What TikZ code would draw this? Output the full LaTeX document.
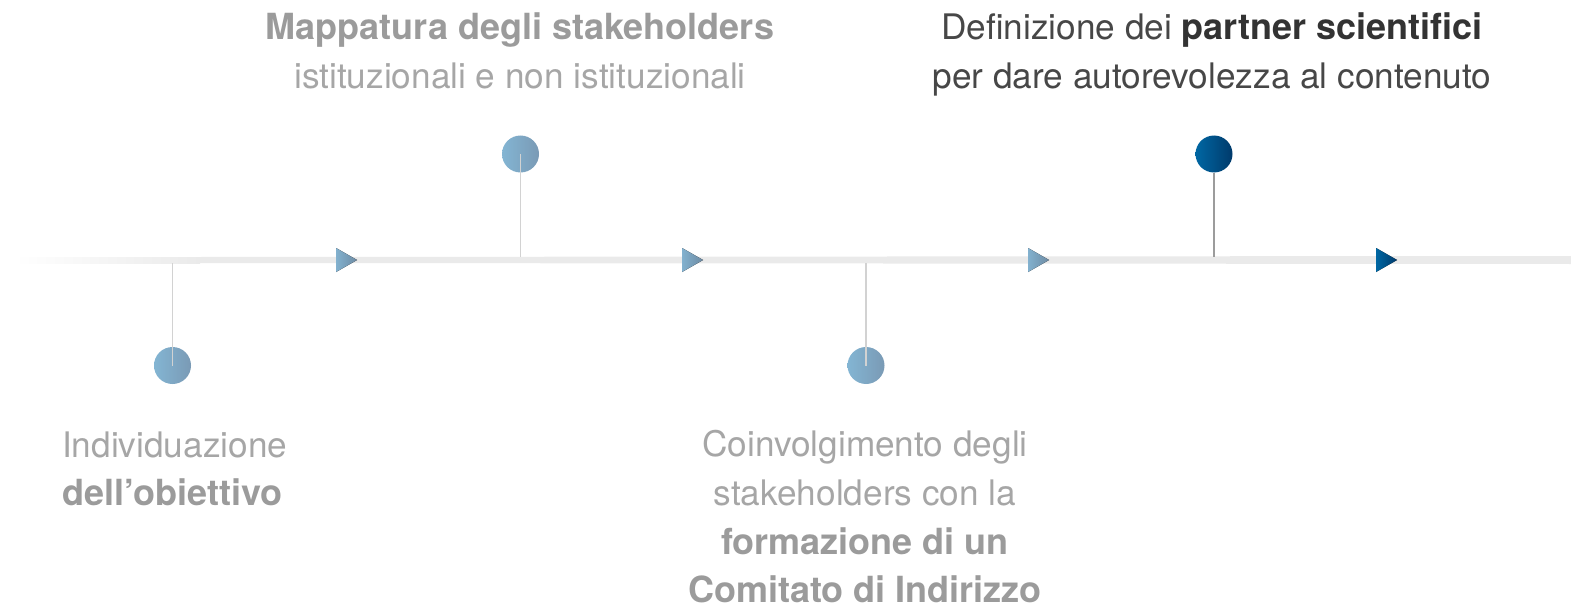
\documentclass[tikz,border=0pt]{standalone}
\usepackage{fontspec}
\setmainfont{TeX Gyre Heros}
\definecolor{txtlight}{HTML}{A6A6A6}
\definecolor{txtbold}{HTML}{9B9B9B}
\definecolor{txtdark}{HTML}{474747}
\definecolor{txtdarkb}{HTML}{333333}
\definecolor{bluelA}{HTML}{83B5D3}
\definecolor{bluelB}{HTML}{7A9AB5}
\definecolor{bluedA}{HTML}{0067A3}
\definecolor{bluedB}{HTML}{003A6B}
\definecolor{linegray}{HTML}{EAEAEA}
\definecolor{stemlight}{HTML}{D2D2D2}
\definecolor{stemdark}{HTML}{9C9C9C}
\tikzset{
  lbl/.style={inner sep=0pt, anchor=base, font=\fontsize{35.2}{48}\selectfont},
  lblb/.style={inner sep=0pt, anchor=base, font=\fontsize{36}{48}\selectfont\bfseries},
  lightdot/.style={circle, minimum size=37pt, inner sep=0pt, left color=bluelA, right color=bluelB},
  darkdot/.style={circle, minimum size=37pt, inner sep=0pt, left color=bluedA, right color=bluedB},
  lighttri/.style={left color=bluelA!85!bluelB, right color=bluelB!90!black},
  darktri/.style={left color=bluedA, right color=bluedB},
  stemL/.style={draw=stemlight, line width=1.5pt},
  stemD/.style={draw=stemdark, line width=1.5pt},
}
\begin{document}
\begin{tikzpicture}[x=1pt,y=-1pt]
\useasboundingbox (0,0) rectangle (1571,607);
% timeline bar
\shade[left color=white, right color=linegray] (15,257) rectangle (200,263);
\fill[linegray] (199.5,257) -- (1571,256) -- (1571,264) -- (199.5,263) -- cycle;
% coordinates on the line
\coordinate (l1) at (172.5,263);
\coordinate (l2) at (520.5,257);
\coordinate (l3) at (866,263);
\coordinate (l4) at (1214,257);
% arrow heads
\foreach \xx in {336,682,1028}{
  \fill[lighttri] (\xx,248) -- (\xx+21,260) -- (\xx,272) -- cycle;
}
\fill[darktri] (1376,248) -- (1397,260) -- (1376,272) -- cycle;
% dots
\node[lightdot] (c1) at (172.5,365.5) {};
\node[lightdot] (c2) at (520.5,154) {};
\node[lightdot] (c3) at (866,365.5) {};
\node[darkdot] (c4) at (1214,154) {};
% stems
\draw[stemL] (l1) -- (c1.center);
\draw[stemL] (c2.center) -- (l2);
\draw[stemL] (l3) -- (c3.center);
\draw[stemD] (c4.south) -- (l4);
% labels
\node[lblb, text=txtbold] (t2a) at (520,40) {Mappatura degli stakeholders};
\node[lbl, text=txtlight] (t2b) at (520,89) {istituzionali e non istituzionali};
\node[lbl, text=txtdark] (t4a) at (1212,40) {Definizione dei {\fontsize{36}{48}\selectfont\color{txtdarkb}\bfseries partner scientifici}};
\node[lbl, text=txtdark] (t4b) at (1212,89) {per dare autorevolezza al contenuto};
\node[lbl, anchor=base west, text=txtlight] (t1a) at (62,457) {Individuazione};
\node[lblb, anchor=base west, text=txtbold] (t1b) at (62,505) {dell’obiettivo};
\node[lbl, text=txtlight] (t3a) at (865,456) {Coinvolgimento degli};
\node[lbl, text=txtlight] (t3b) at (865,505) {stakeholders con la};
\node[lblb, text=txtbold] (t3c) at (865,554) {formazione di un};
\node[lblb, text=txtbold] (t3d) at (865,602) {Comitato di Indirizzo};
\end{tikzpicture}
\end{document}
